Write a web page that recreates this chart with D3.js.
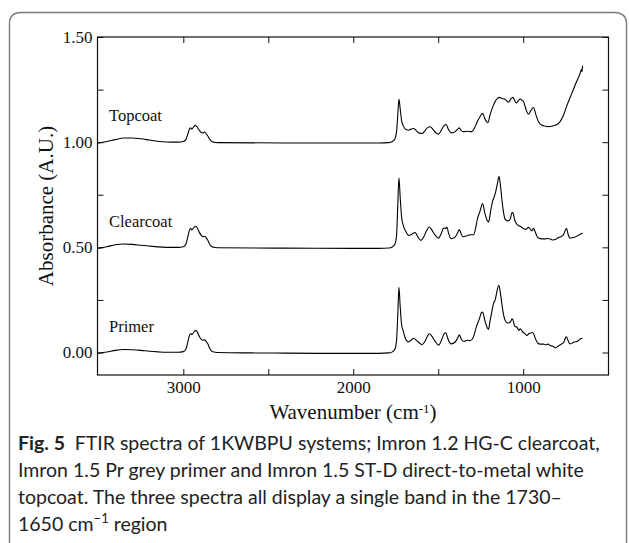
<!DOCTYPE html>
<html>
<head>
<meta charset="utf-8">
<script src="https://cdnjs.cloudflare.com/ajax/libs/d3/7.8.5/d3.min.js"></script>
<style>
  body { margin: 0; background: #fff; }
  svg { display: block; }
</style>
</head>
<body>
<svg id="chart" width="629" height="543"></svg>
<script>
// FTIR spectra (wavenumber in cm-1, absorbance in A.U.)
var primerWn  = [3505,3450,3400,3350,3300,3250,3200,3150,3100,3030,3000,2985,2975,2965,2957,2950,2940,2928,2918,2905,2895,2885,2875,2865,2855,2845,2835,2820,2800,2600,2400,2200,2000,1850,1790,1770,1755,1745,1738,1731,1724,1715,1705,1695,1685,1675,1660,1645,1625,1610,1596,1580,1565,1553,1540,1520,1498,1480,1465,1455,1445,1435,1424,1400,1385,1376,1365,1351,1330,1312,1295,1273,1258,1245,1239,1225,1210,1204,1195,1183,1175,1165,1152,1143,1132,1120,1106,1090,1075,1066,1061,1050,1037,1025,1018,1000,990,978,965,950,943,930,915,900,880,871,855,841,825,812,795,780,773,760,750,745,735,724,710,700,684,670,660,650];
var primerAbs = [-0.004,0.002,0.010,0.014,0.013,0.010,0.006,0.003,0.001,0.001,0.004,0.015,0.045,0.078,0.090,0.085,0.095,0.105,0.098,0.075,0.063,0.058,0.060,0.052,0.040,0.020,0.008,0.002,0.000,-0.002,-0.003,-0.004,-0.004,-0.004,-0.002,0.003,0.015,0.06,0.18,0.31,0.22,0.13,0.10,0.07,0.055,0.05,0.058,0.068,0.055,0.045,0.037,0.05,0.075,0.089,0.08,0.055,0.035,0.06,0.09,0.094,0.07,0.05,0.041,0.05,0.07,0.084,0.065,0.052,0.058,0.056,0.07,0.129,0.16,0.19,0.192,0.15,0.115,0.11,0.15,0.20,0.232,0.25,0.30,0.32,0.27,0.20,0.152,0.14,0.145,0.16,0.157,0.125,0.12,0.105,0.113,0.095,0.09,0.081,0.09,0.094,0.094,0.07,0.045,0.04,0.04,0.037,0.04,0.033,0.03,0.022,0.03,0.038,0.041,0.05,0.072,0.075,0.055,0.041,0.045,0.05,0.052,0.06,0.066,0.068];

var clearWn  = [3505,3450,3400,3350,3300,3250,3200,3150,3100,3030,3000,2985,2975,2965,2957,2950,2940,2928,2918,2905,2895,2885,2875,2865,2855,2845,2835,2820,2800,2400,2000,1850,1790,1770,1755,1745,1738,1731,1724,1715,1704,1690,1675,1660,1645,1635,1620,1602,1585,1568,1553,1540,1520,1498,1480,1469,1455,1449,1440,1425,1400,1385,1376,1365,1355,1330,1312,1292,1280,1269,1255,1239,1225,1210,1204,1192,1180,1175,1163,1150,1142,1132,1120,1106,1090,1076,1066,1061,1050,1041,1030,1018,1008,998,985,969,960,949,940,930,920,910,890,871,855,841,825,812,795,780,772,760,750,745,735,724,710,694,680,665,655,650];
var clearAbs = [0.495,0.503,0.512,0.516,0.514,0.510,0.506,0.502,0.500,0.500,0.503,0.515,0.545,0.578,0.590,0.583,0.593,0.600,0.592,0.570,0.558,0.550,0.553,0.545,0.532,0.515,0.505,0.500,0.498,0.496,0.495,0.495,0.497,0.502,0.515,0.56,0.70,0.83,0.74,0.64,0.60,0.575,0.557,0.56,0.568,0.57,0.55,0.533,0.55,0.58,0.597,0.585,0.56,0.544,0.57,0.592,0.59,0.597,0.57,0.541,0.55,0.57,0.584,0.565,0.55,0.555,0.56,0.56,0.59,0.637,0.67,0.708,0.66,0.625,0.62,0.67,0.72,0.73,0.76,0.81,0.838,0.78,0.69,0.633,0.625,0.635,0.665,0.665,0.63,0.613,0.605,0.60,0.595,0.59,0.585,0.595,0.588,0.578,0.59,0.575,0.555,0.544,0.54,0.54,0.542,0.54,0.535,0.537,0.545,0.55,0.553,0.565,0.585,0.589,0.56,0.544,0.546,0.549,0.555,0.562,0.566,0.569];

var topWn  = [3505,3450,3400,3350,3300,3250,3200,3150,3100,3030,3000,2985,2975,2965,2957,2950,2940,2930,2918,2905,2895,2885,2875,2865,2855,2845,2835,2820,2800,2400,2000,1850,1790,1770,1755,1745,1738,1731,1724,1715,1704,1690,1675,1660,1645,1630,1615,1596,1580,1565,1547,1530,1515,1498,1480,1465,1453,1440,1420,1400,1385,1376,1365,1351,1330,1302,1285,1269,1255,1239,1225,1208,1195,1175,1160,1141,1125,1106,1095,1086,1073,1061,1050,1041,1030,1018,1008,998,985,969,955,939,925,910,890,871,850,831,815,802,785,763,740,714,690,665,658,654,651,650];
var topAbs = [0.995,1.003,1.012,1.020,1.020,1.016,1.010,1.004,1.001,1.000,1.003,1.012,1.035,1.060,1.068,1.062,1.072,1.080,1.072,1.055,1.046,1.044,1.048,1.040,1.028,1.015,1.005,1.000,0.998,0.996,0.996,0.996,0.998,1.003,1.015,1.05,1.13,1.205,1.16,1.10,1.075,1.06,1.057,1.062,1.065,1.055,1.045,1.041,1.052,1.068,1.073,1.06,1.045,1.038,1.06,1.08,1.084,1.06,1.044,1.05,1.062,1.068,1.055,1.05,1.052,1.05,1.07,1.10,1.12,1.137,1.11,1.092,1.13,1.176,1.20,1.213,1.208,1.203,1.195,1.19,1.205,1.213,1.198,1.186,1.195,1.205,1.20,1.193,1.16,1.133,1.15,1.165,1.13,1.097,1.08,1.076,1.074,1.076,1.08,1.083,1.095,1.128,1.18,1.232,1.28,1.327,1.345,1.335,1.362,1.355];

var seriesNames = ["Topcoat", "Clearcoat", "Primer"];
var labelLevels = [1.13, 0.625, 0.125];

var yTicks = [0, 0.25, 0.5, 0.75, 1.0, 1.25, 1.5];
var yTickLabels = ["0.00", "", "0.50", "", "1.00", "", "1.50"];
var xTicks = [3000, 2500, 2000, 1500, 1000];
var xTickLabels = ["3000", "", "2000", "", "1000"];

var captionLines = [
  "FTIR spectra of 1KWBPU systems; Imron 1.2 HG-C clearcoat,",
  "Imron 1.5 Pr grey primer and Imron 1.5 ST-D direct-to-metal white",
  "topcoat. The three spectra all display a single band in the 1730–",
  "1650 cm"
];

var svg = d3.select('#chart');
var serif = '"Liberation Serif", "Times New Roman", serif';
var sans = 'Lato, "Liberation Sans", sans-serif';

// frame round the figure and caption
svg.append('path')
  .attr('d', 'M9.5,543 L9.5,24 Q9.5,12.5 21,12.5 L614,12.5 Q626.5,12.5 626.5,24 L626.5,543')
  .attr('fill', 'none')
  .attr('stroke', '#7a7a7a')
  .attr('stroke-width', 1.4);

var plot = { left: 97.5, right: 608.5, top: 37, bottom: 375 };

var x = d3.scaleLinear().domain([3505, 498]).range([plot.left, plot.right]);
var y = d3.scaleLinear().domain([-0.107, 1.5]).range([plot.bottom, plot.top]);

var axisFont = function(g) {
  g.select('.domain').remove();
  g.selectAll('text').attr('font-family', serif).attr('font-size', 17).attr('fill', '#111');
  g.selectAll('line').attr('stroke', '#111');
};

// left / right axes with inward ticks
svg.append('g')
  .attr('transform', 'translate(' + plot.left + ',0)')
  .call(d3.axisLeft(y).tickValues(yTicks).tickSize(-6).tickPadding(5)
    .tickFormat(function(d, i) { return yTickLabels[i]; }))
  .call(axisFont);
svg.append('g')
  .attr('transform', 'translate(' + plot.right + ',0)')
  .call(d3.axisRight(y).tickValues(yTicks).tickSize(-6).tickFormat(''))
  .call(axisFont);

// bottom / top axes
svg.append('g')
  .attr('transform', 'translate(0,' + plot.bottom + ')')
  .call(d3.axisBottom(x).tickValues(xTicks).tickSize(-6).tickPadding(6)
    .tickFormat(function(d, i) { return xTickLabels[i]; }))
  .call(axisFont);
svg.append('g')
  .attr('transform', 'translate(0,' + plot.top + ')')
  .call(d3.axisTop(x).tickValues(xTicks).tickSize(-6).tickFormat(''))
  .call(axisFont);

svg.append('rect')
  .attr('x', plot.left).attr('y', plot.top)
  .attr('width', plot.right - plot.left).attr('height', plot.bottom - plot.top)
  .attr('fill', 'none').attr('stroke', '#111').attr('stroke-width', 1.2);

// spectra
var line = d3.line()
  .x(function(d) { return x(d[0]); })
  .y(function(d) { return y(d[1]); })
  .curve(d3.curveMonotoneX);

var spectra = [d3.zip(topWn, topAbs), d3.zip(clearWn, clearAbs), d3.zip(primerWn, primerAbs)];
svg.append('g').selectAll('path')
  .data(spectra)
  .enter()
  .append('path')
  .attr('d', line)
  .attr('fill', 'none')
  .attr('stroke', '#000')
  .attr('stroke-width', 1.1)
  .attr('stroke-linejoin', 'round');

svg.append('g').selectAll('text')
  .data(seriesNames)
  .enter()
  .append('text')
  .attr('x', 109)
  .attr('y', function(d, i) { return y(labelLevels[i]); })
  .attr('dy', '0.35em')
  .attr('font-family', serif)
  .attr('font-size', 16.5)
  .attr('fill', '#111')
  .text(function(d) { return d; });

// axis titles
svg.append('text')
  .attr('transform', 'translate(53,' + ((plot.top + plot.bottom) / 2) + ') rotate(-90)')
  .attr('text-anchor', 'middle')
  .attr('font-family', serif)
  .attr('font-size', 21)
  .attr('fill', '#111')
  .text('Absorbance (A.U.)');

var xt = svg.append('text')
  .attr('x', 353)
  .attr('y', 419)
  .attr('text-anchor', 'middle')
  .attr('font-family', serif)
  .attr('font-size', 21)
  .attr('fill', '#111');
xt.append('tspan').text('Wavenumber (cm');
xt.append('tspan').attr('font-size', 13).attr('dy', -6).text('-1');
xt.append('tspan').attr('dy', 6).text(')');

// caption
var cap = svg.append('g')
  .attr('font-family', sans)
  .attr('font-size', 19.5)
  .attr('fill', '#222');
var lineY = [450, 477, 504, 531];
captionLines.forEach(function(t, i) {
  var tx = cap.append('text').attr('x', 18).attr('y', lineY[i]);
  if (i === 0) {
    tx.append('tspan').attr('font-weight', 'bold').text('Fig. 5');
    tx.append('tspan').text('\u2002' + t);
  } else if (i === 3) {
    tx.append('tspan').text(t);
    tx.append('tspan').attr('font-size', 13).attr('dy', -8).text('\u22121');
    tx.append('tspan').attr('dy', 8).text(' region');
  } else {
    tx.text(t);
  }
});
</script>
</body>
</html>
